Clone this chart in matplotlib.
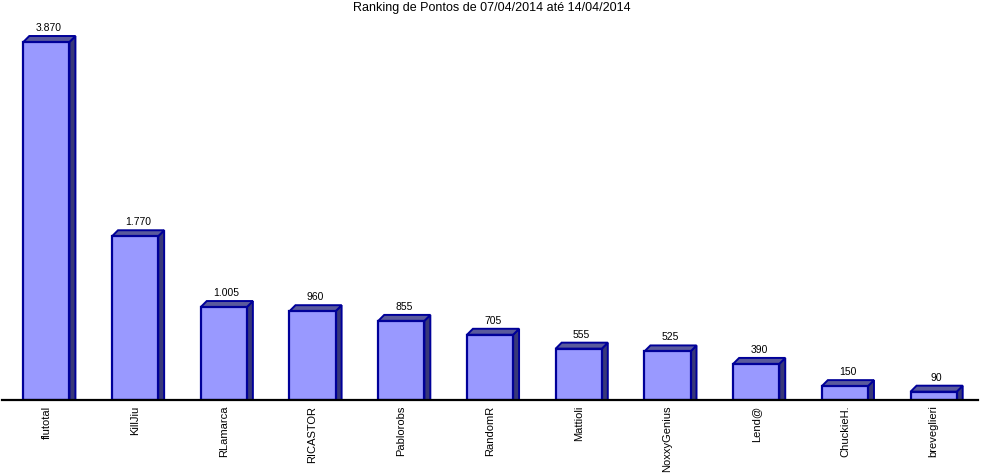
import matplotlib
matplotlib.use("Agg")
from matplotlib import pyplot as plt
from matplotlib.patches import Polygon

# ranking data
players = ["flutotal", "KillJiu", "RLamarca", "RICASTOR", "Pablorobs", "RandomR",
           "Mattioli", "NoxxyGenius", "Lend@", "ChuckieH.", "breveglieri"]
points = [3870, 1770, 1005, 960, 855, 705, 555, 525, 390, 150, 90]

plt.rcParams['font.family'] = ['Liberation Sans', 'DejaVu Sans']

fig = plt.figure(figsize=(9.84, 4.73), dpi=100)
W, H = 984, 473
ax = fig.add_axes([2 / W, (H - 400) / H, 976 / W, 375 / H])

front = "#9999ff"
top_c = "#5a5a9c"
side_c = "#383878"
edge = "#000099"
depth = 6  # pixels

bars = ax.bar(range(len(players)), points, width=0.52, color=front,
              edgecolor=edge, linewidth=1.6, zorder=3)
ax.set_xlim(-0.5, len(players) - 0.5)
ax.set_ylim(0, 3870 * 375 / 358)

# fake 3d: top and side faces in pixel coordinates
for b, v in zip(bars, points):
    x0, x1 = b.get_x(), b.get_x() + b.get_width()
    (px0, py0), (px1, py1) = ax.transData.transform([(x0, 0), (x1, v)])
    top = [(px0, py1), (px1, py1), (px1 + depth, py1 + depth), (px0 + depth, py1 + depth)]
    side = [(px1, py0), (px1, py1), (px1 + depth, py1 + depth), (px1 + depth, py0)]
    for pts, c in ((side, side_c), (top, top_c)):
        ax.add_patch(Polygon(pts, closed=True, transform=None, facecolor=c,
                             edgecolor=edge, linewidth=1.4, zorder=2))
    lbl = "{:,}".format(v).replace(",", ".")
    ax.annotate(lbl, (b.get_x() + b.get_width() / 2, v), xytext=(2, 6.5),
                textcoords="offset points", ha="center", va="bottom", fontsize=7.5)

ax.set_xticks(range(len(players)))
ax.set_xticklabels(players, rotation=90, fontsize=8)
ax.tick_params(axis="x", length=0, pad=4)
ax.set_yticks([])
for s in ("left", "right", "top"):
    ax.spines[s].set_visible(False)
ax.spines["bottom"].set_linewidth(1.6)
ax.spines["bottom"].set_zorder(4)

fig.text(0.5, 1 - 8 / H, "Ranking de Pontos de 07/04/2014 até 14/04/2014",
         ha="center", va="center", fontsize=9)

fig.savefig("out.png", dpi=100)
